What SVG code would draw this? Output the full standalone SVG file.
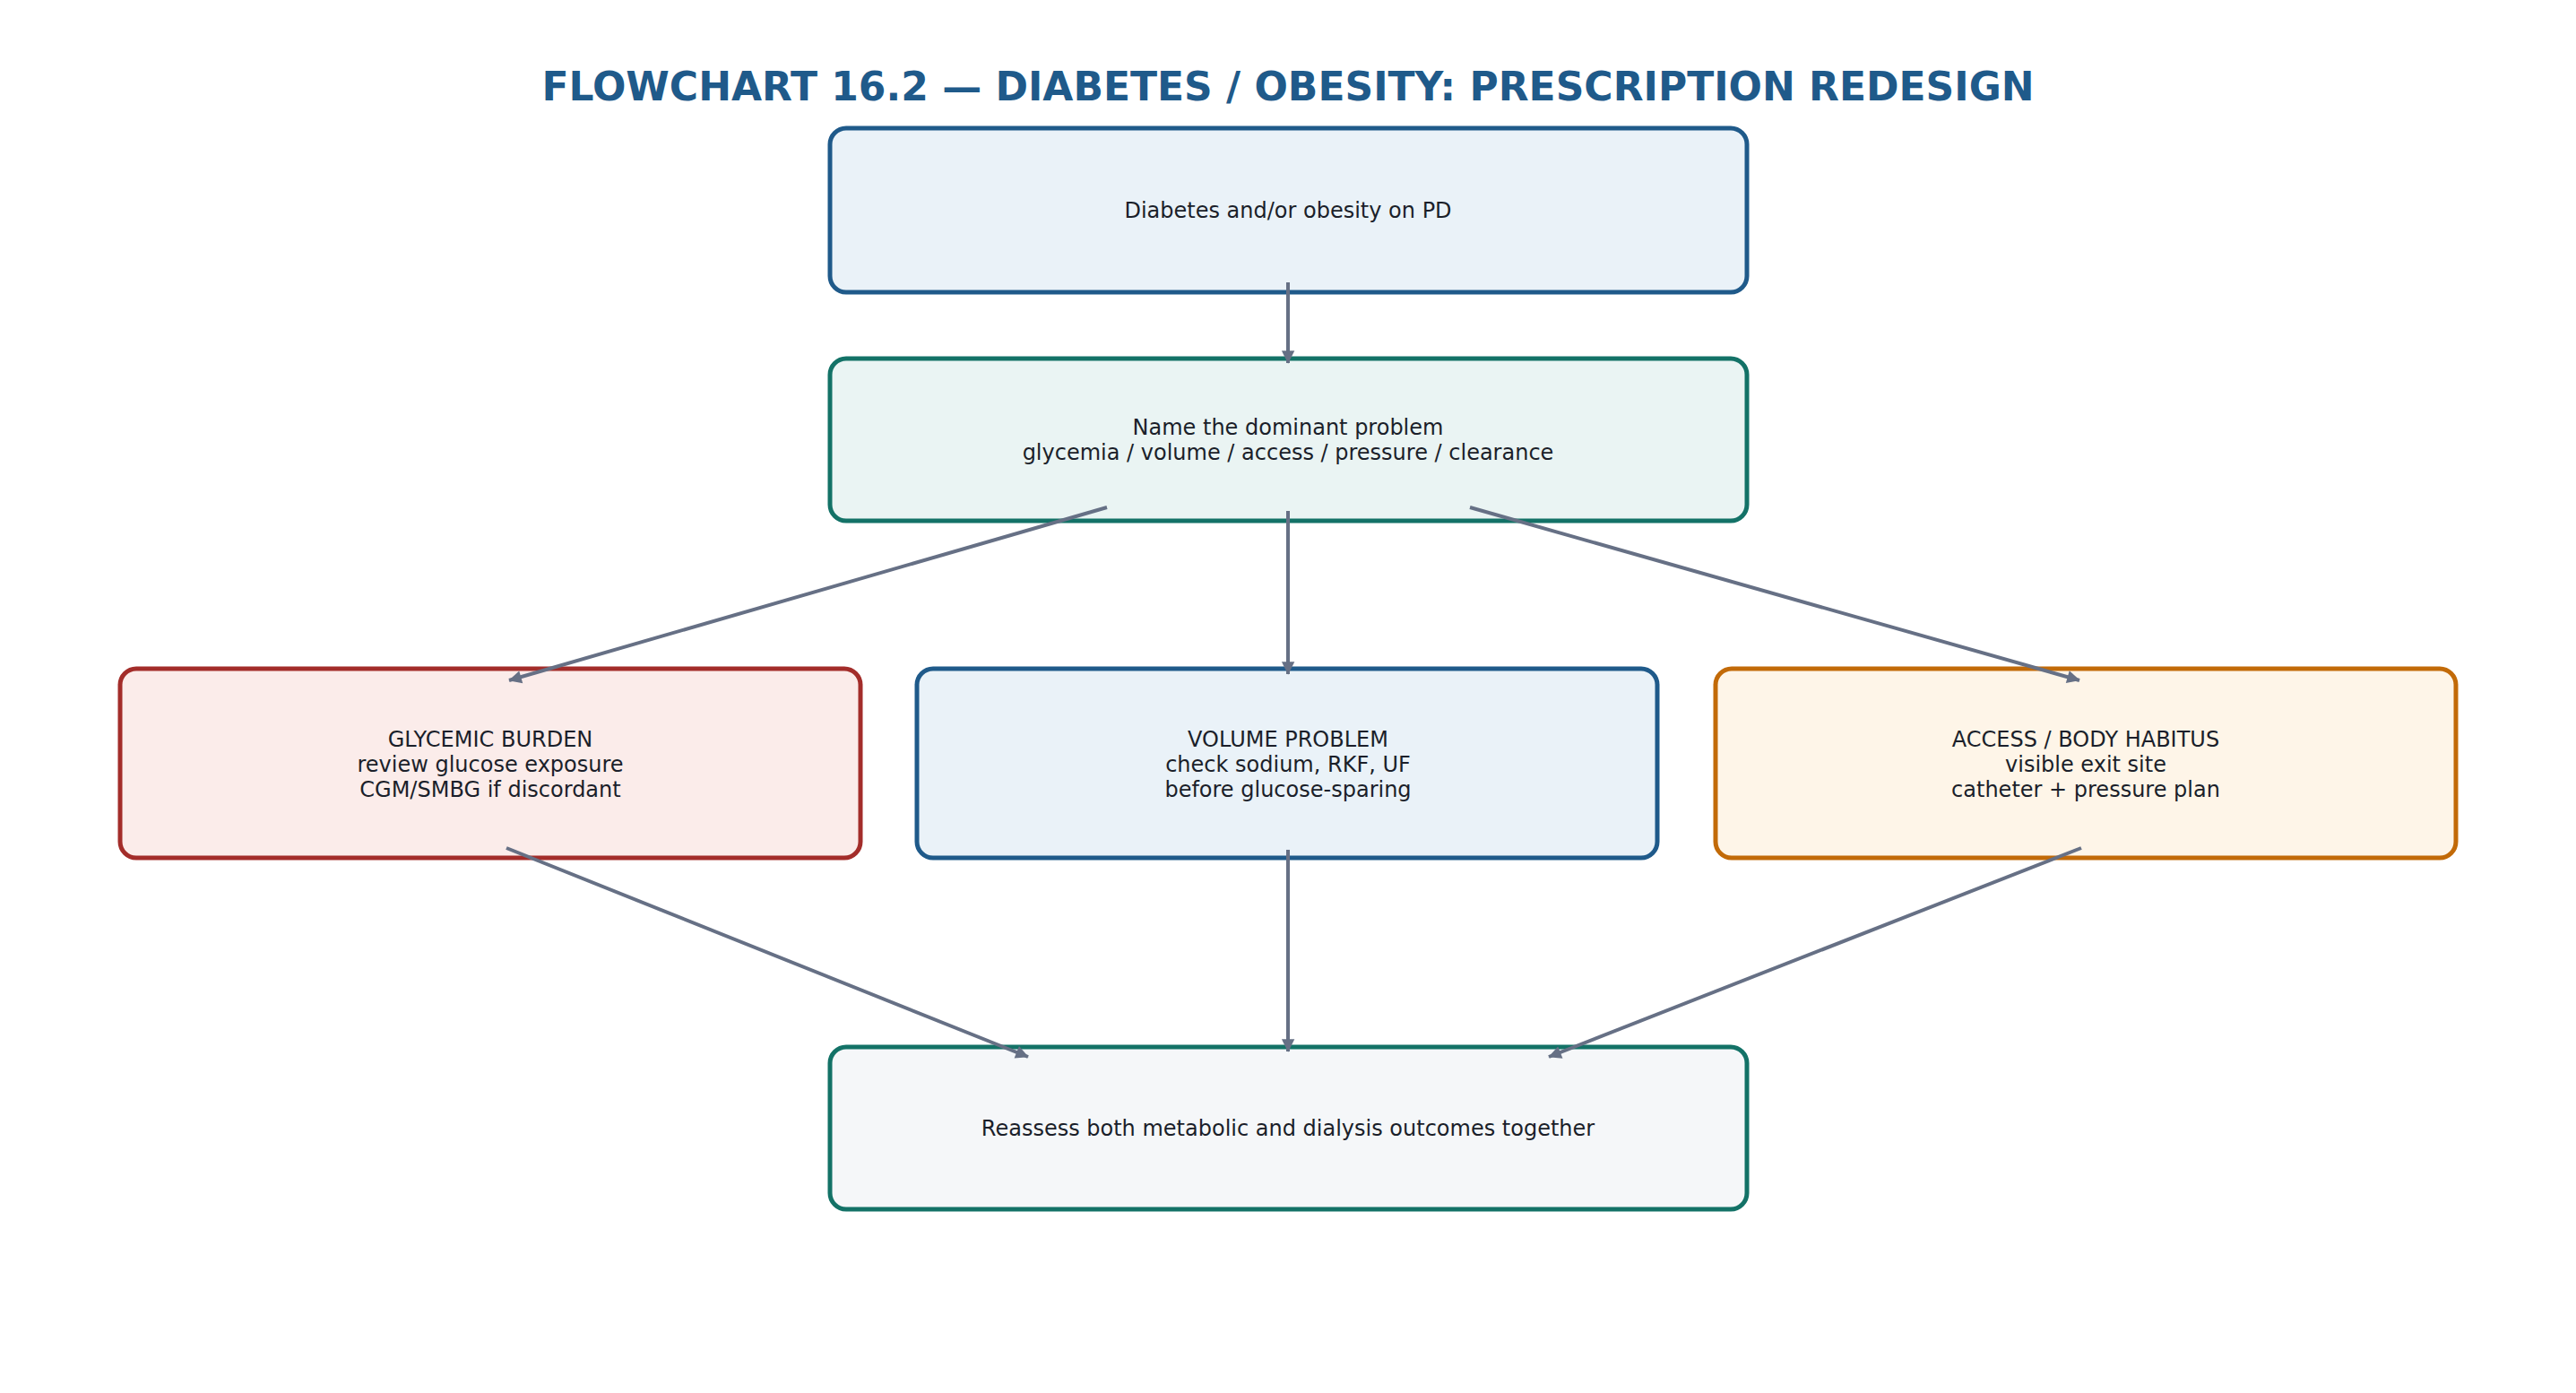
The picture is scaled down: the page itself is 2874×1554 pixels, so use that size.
<svg xmlns="http://www.w3.org/2000/svg" width="2874" height="1554" viewBox="0 0 2874 1554">
<style>
text{font-family:"DejaVu Sans",sans-serif;fill:#1b1f2a;font-size:24px;text-anchor:middle}
.t{font-size:44px;font-weight:bold;fill:#1f5a8a}
rect{stroke-width:5}
.e{stroke:#667085;stroke-width:4;fill:none;marker-end:url(#a)}
</style>
<defs><marker id="a" viewBox="0 0 10 10" refX="9" refY="5" markerWidth="6" markerHeight="6" markerUnits="userSpaceOnUse" orient="auto" style="overflow:visible"><path d="M0,0 L10,5 L0,10 z" fill="#667085" transform="scale(2.4) translate(-5.8,-3)"/></marker></defs>
<rect width="2874" height="1554" fill="#fff" style="stroke:none"/>
<text class="t" x="1437" y="112">FLOWCHART 16.2 — DIABETES / OBESITY: PRESCRIPTION REDESIGN</text>
<g id="n1"><rect x="926" y="143" width="1023" height="183" rx="18" fill="#eaf2f8" stroke="#1f5a8a"/><text x="1437" y="243">Diabetes and/or obesity on PD</text></g>
<g id="n2"><rect x="926" y="400" width="1023" height="181" rx="18" fill="#eaf4f3" stroke="#137267"/><text x="1437" y="485">Name the dominant problem</text><text x="1437" y="513">glycemia / volume / access / pressure / clearance</text></g>
<g id="n3"><rect x="134" y="746" width="826" height="211" rx="18" fill="#fbecea" stroke="#a32d2a"/><text x="547" y="833">GLYCEMIC BURDEN</text><text x="547" y="861">review glucose exposure</text><text x="547" y="889">CGM/SMBG if discordant</text></g>
<g id="n4"><rect x="1023" y="746" width="826" height="211" rx="18" fill="#eaf2f8" stroke="#1f5a8a"/><text x="1437" y="833">VOLUME PROBLEM</text><text x="1437" y="861">check sodium, RKF, UF</text><text x="1437" y="889">before glucose-sparing</text></g>
<g id="n5"><rect x="1914" y="746" width="826" height="211" rx="18" fill="#fef5e8" stroke="#c26a08"/><text x="2327" y="833">ACCESS / BODY HABITUS</text><text x="2327" y="861">visible exit site</text><text x="2327" y="889">catheter + pressure plan</text></g>
<g id="n6"><rect x="926" y="1168" width="1023" height="181" rx="18" fill="#f5f7f9" stroke="#137267"/><text x="1437" y="1267">Reassess both metabolic and dialysis outcomes together</text></g>
<g id="edges">
<path class="e" d="M1437,315 L1437,405"/>
<path class="e" d="M1437,570 L1437,752"/>
<path class="e" d="M1235,566 L568,759"/>
<path class="e" d="M1640,566 L2320,759"/>
<path class="e" d="M565,946 L1147,1179"/>
<path class="e" d="M1437,948 L1437,1173"/>
<path class="e" d="M2322,946 L1728,1179"/>
</g>
</svg>
